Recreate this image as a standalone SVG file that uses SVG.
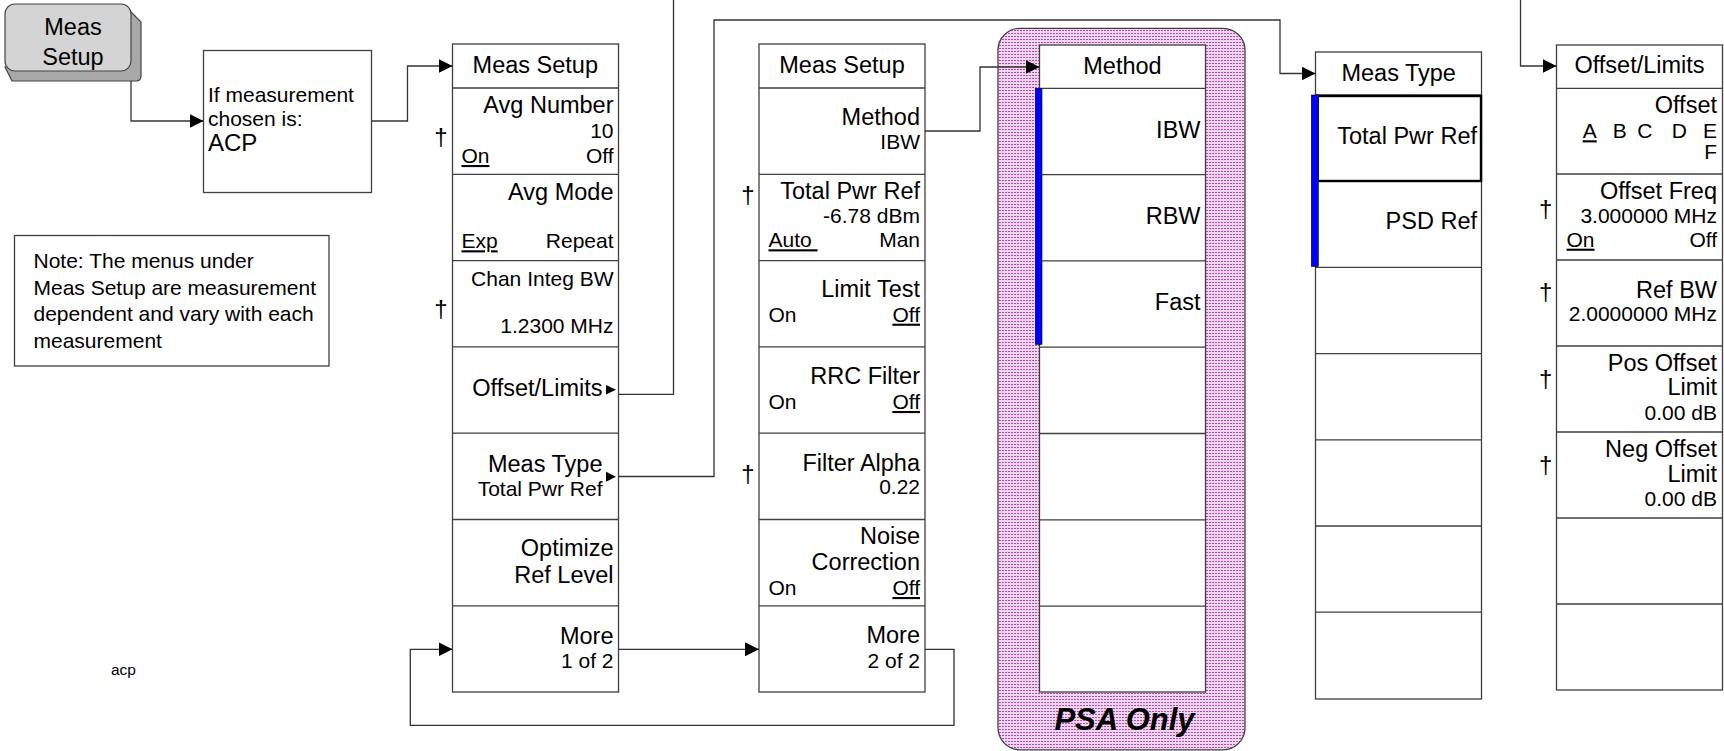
<svg xmlns="http://www.w3.org/2000/svg" width="1724" height="751" viewBox="0 0 1724 751">
<defs>
<style>
text{font-family:"Liberation Sans",Arial,sans-serif;fill:#000}
.t{font-size:23.5px}
.s{font-size:21px}
.e{text-anchor:end}
.m{text-anchor:middle}
.u{text-decoration:underline}
.box{fill:#fff;stroke:#404040;stroke-width:1.3}
.row{stroke:#404040;stroke-width:1.3;fill:none}
.con{fill:none;stroke:#333;stroke-width:1.3}
.blue{fill:#0000ff;stroke:#000;stroke-width:0.6}
.dag{font-size:24px;text-anchor:middle}
</style>
<marker id="arr" markerUnits="userSpaceOnUse" markerWidth="15" markerHeight="14" refX="14" refY="7" orient="auto">
<path d="M0,0 L14,7 L0,14 Z" fill="#000"/>
</marker>
<pattern id="dots" width="3" height="3" patternUnits="userSpaceOnUse">
<rect width="3" height="3" fill="#f0d6f0"/>
<rect x="0" y="0" width="2" height="1" fill="#b24ab2"/>
</pattern>
</defs>
<rect width="1724" height="751" fill="#fff"/>

<g id="key-meas-setup">
<path d="M128 9 L141 22 V76 Q141 81 136 81 H12 L5 67 Z" fill="#a8a8a8" stroke="#444" stroke-width="1.2"/>
<rect x="5" y="4" width="126" height="67" rx="10" fill="#d4d4d4" stroke="#444" stroke-width="1.2"/>
<text class="t m" x="73" y="35">Meas</text>
<text class="t m" x="73" y="65">Setup</text>
</g>

<g id="acp-box">
<rect class="box" x="203.5" y="50.5" width="168" height="142"/>
<text class="s" x="208" y="101.7">If measurement</text>
<text class="s" x="208" y="126">chosen is:</text>
<text x="208" y="150.7" style="font-size:24px">ACP</text>
</g>

<g id="note">
<rect class="box" x="14.5" y="235.5" width="314.5" height="130.5"/>
<text class="s" x="33.5" y="268.3">Note: The menus under</text>
<text class="s" x="33.5" y="294.8">Meas Setup are measurement</text>
<text class="s" x="33.5" y="321.3">dependent and vary with each</text>
<text class="s" x="33.5" y="347.8">measurement</text>
</g>

<g id="acp-label">
<text x="111" y="675" style="font-size:15.5px">acp</text>
</g>

<g id="menu-meas-setup-1">
<rect class="box" x="452.5" y="44" width="166" height="648"/>
<path class="row" d="M452.5 88H618.5M452.5 174.3H618.5M452.5 260.6H618.5M452.5 346.9H618.5M452.5 433.2H618.5M452.5 519.5H618.5M452.5 605.8H618.5"/>
<text class="t m" x="535.3" y="72.7">Meas Setup</text>
<text class="dag" x="441" y="145">†</text>
<text class="t e" x="613.5" y="113.3">Avg Number</text>
<text class="s e" x="613.5" y="138.3">10</text>
<text class="s u" x="461.5" y="163">On</text>
<text class="s e" x="613.5" y="163">Off</text>
<text class="t e" x="613.5" y="200">Avg Mode</text>
<text class="s u" x="461.5" y="248.3">Exp</text>
<text class="s e" x="613.5" y="248.3">Repeat</text>
<text class="dag" x="441" y="316.5">†</text>
<text class="s e" x="613.5" y="286">Chan Integ BW</text>
<text class="s e" x="613.5" y="332.7">1.2300 MHz</text>
<text class="t e" x="602.5" y="396">Offset/Limits</text>
<polygon points="606,385 616,389.7 606,394.5" fill="#000"/>
<text class="t e" x="602.5" y="471.7">Meas Type</text>
<text class="s e" x="602.5" y="495.7">Total Pwr Ref</text>
<polygon points="606,471.7 616,476.7 606,481.7" fill="#000"/>
<text class="t e" x="613.5" y="556">Optimize</text>
<text class="t e" x="613.5" y="582.7">Ref Level</text>
<text class="t e" x="613.5" y="644">More</text>
<text class="s e" x="613.5" y="668.3">1 of 2</text>
</g>

<g id="menu-meas-setup-2">
<rect class="box" x="759" y="44" width="166" height="648"/>
<path class="row" d="M759 88H925M759 174.3H925M759 260.6H925M759 346.9H925M759 433.2H925M759 519.5H925M759 605.8H925"/>
<text class="t m" x="842" y="72.7">Meas Setup</text>
<text class="t e" x="920" y="125">Method</text>
<text class="s e" x="920" y="149">IBW</text>
<text class="dag" x="748" y="203">†</text>
<text class="t e" x="920" y="199.3">Total Pwr Ref</text>
<text class="s e" x="920" y="223.3">-6.78 dBm</text>
<text class="s u" x="768.5" y="247.3">Auto&#160;</text>
<text class="s e" x="920" y="247.3">Man</text>
<text class="t e" x="920" y="296.7">Limit Test</text>
<text class="s" x="768.5" y="321.7">On</text>
<text class="s e u" x="920" y="321.7">Off</text>
<text class="t e" x="920" y="384.3">RRC Filter</text>
<text class="s" x="768.5" y="409">On</text>
<text class="s e u" x="920" y="409">Off</text>
<text class="dag" x="748" y="481.5">†</text>
<text class="t e" x="920" y="471">Filter Alpha</text>
<text class="s e" x="920" y="494.3">0.22</text>
<text class="t e" x="920" y="544">Noise</text>
<text class="t e" x="920" y="570">Correction</text>
<text class="s" x="768.5" y="595">On</text>
<text class="s e u" x="920" y="595">Off</text>
<text class="t e" x="920" y="643.3">More</text>
<text class="s e" x="920" y="667.7">2 of 2</text>
</g>

<g id="psa-only">
<rect x="998" y="28.3" width="247" height="721.5" rx="22" fill="url(#dots)" stroke="#404040" stroke-width="1.3"/>
<text x="1124.5" y="730" text-anchor="middle" style="font-size:31px;font-weight:bold;font-style:italic">PSA Only</text>
</g>

<g id="menu-method">
<rect class="box" x="1039.5" y="45" width="166" height="647"/>
<path class="row" d="M1039.5 88.3H1205.5M1039.5 174.6H1205.5M1039.5 260.9H1205.5M1039.5 347.2H1205.5M1039.5 433.5H1205.5M1039.5 519.8H1205.5M1039.5 606.1H1205.5"/>
<rect class="blue" x="1035.3" y="88.3" width="6.7" height="256"/>
<text class="t m" x="1122.5" y="74">Method</text>
<text class="t e" x="1200.5" y="138.3">IBW</text>
<text class="t e" x="1200.5" y="224">RBW</text>
<text class="t e" x="1200.5" y="310">Fast</text>
</g>

<g id="menu-meas-type">
<rect class="box" x="1315.5" y="52" width="166" height="647"/>
<path class="row" d="M1315.5 95H1481.5M1315.5 181.2H1481.5M1315.5 267.4H1481.5M1315.5 353.6H1481.5M1315.5 439.8H1481.5M1315.5 526H1481.5M1315.5 612.2H1481.5"/>
<rect x="1317.5" y="96" width="163.5" height="85" fill="none" stroke="#000" stroke-width="2.4"/>
<rect class="blue" x="1311.3" y="95" width="7" height="171.5"/>
<text class="t m" x="1398.7" y="81">Meas Type</text>
<text class="t e" x="1477" y="144.3">Total Pwr Ref</text>
<text class="t e" x="1477" y="229.3">PSD Ref</text>
</g>

<g id="menu-offset-limits">
<rect class="box" x="1556.5" y="45" width="166" height="645"/>
<path class="row" d="M1556.5 88.3H1722.5M1556.5 174H1722.5M1556.5 260H1722.5M1556.5 346H1722.5M1556.5 432H1722.5M1556.5 518H1722.5M1556.5 604H1722.5"/>
<text class="t m" x="1639.5" y="72.7">Offset/Limits</text>
<text class="t e" x="1717" y="113.3">Offset</text>
<text class="s u" x="1582.7" y="138.3">A</text>
<text class="s" x="1612.7" y="138.3">B</text>
<text class="s" x="1637.3" y="138.3">C</text>
<text class="s" x="1671.7" y="138.3">D</text>
<text class="s e" x="1717" y="138.3">E</text>
<text class="s e" x="1717" y="159.3">F</text>
<text class="dag" x="1545.7" y="216.5">†</text>
<text class="t e" x="1717" y="199">Offset Freq</text>
<text class="s e" x="1717" y="222.7">3.000000 MHz</text>
<text class="s u" x="1566.5" y="246.7">On</text>
<text class="s e" x="1717" y="246.7">Off</text>
<text class="dag" x="1545.7" y="300">†</text>
<text class="t e" x="1717" y="297.7">Ref BW</text>
<text class="s e" x="1717" y="320.7">2.0000000 MHz</text>
<text class="dag" x="1545.7" y="386.5">†</text>
<text class="t e" x="1717" y="370.7">Pos Offset</text>
<text class="t e" x="1717" y="395">Limit</text>
<text class="s e" x="1717" y="420">0.00 dB</text>
<text class="dag" x="1545.7" y="473">†</text>
<text class="t e" x="1717" y="456.7">Neg Offset</text>
<text class="t e" x="1717" y="481.7">Limit</text>
<text class="s e" x="1717" y="506">0.00 dB</text>
</g>

<g id="connectors">
<path class="con" d="M131 81 V121 H203.5" marker-end="url(#arr)"/>
<path class="con" d="M371.5 121 H407.5 V66 H452.5" marker-end="url(#arr)"/>
<path class="con" d="M618.5 394.3 H673.5 V-5 H1520.5 V66 H1556.5" marker-end="url(#arr)"/>
<path class="con" d="M618.5 476.5 H714 V20 H1280 V73.5 H1315.5" marker-end="url(#arr)"/>
<path class="con" d="M925 131 H980 V67 H1039.5" marker-end="url(#arr)"/>
<path class="con" d="M618.5 649.3 H759" marker-end="url(#arr)"/>
<path class="con" d="M925 649.3 H954 V725.3 H410.3 V649.3 H452.5" marker-end="url(#arr)"/>
</g>
</svg>
